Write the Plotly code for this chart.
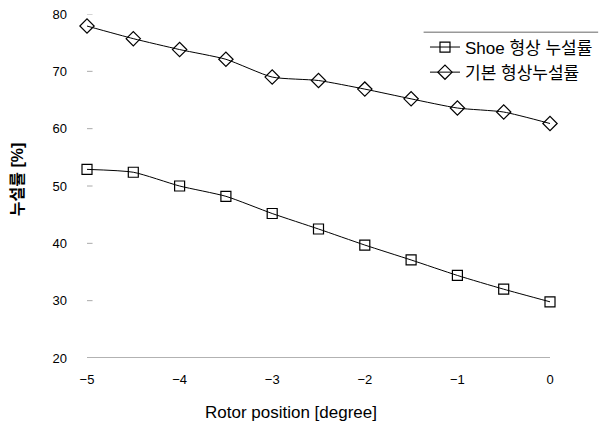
import plotly.graph_objects as go

rotor_position = [-5, -4.5, -4, -3.5, -3, -2.5, -2, -1.5, -1, -0.5, 0]
shoe_leak = [52.9, 52.4, 50.0, 48.2, 45.2, 42.5, 39.7, 37.1, 34.4, 32.0, 29.8]
basic_leak = [77.9, 75.7, 73.8, 72.1, 69.0, 68.4, 66.9, 65.2, 63.6, 62.9, 60.9]
series_names = ["Shoe 형상 누설률", "기본 형상누설률"]
x_ticks = [-5, -4, -3, -2, -1, 0]
y_ticks = [20, 30, 40, 50, 60, 70, 80]

FONT = "Liberation Sans, Arial, Noto Sans CJK KR, sans-serif"

fig = go.Figure()
fig.add_trace(go.Scatter(
    x=rotor_position, y=shoe_leak, name=series_names[0],
    mode="lines+markers", cliponaxis=False,
    line=dict(color="black", width=1, shape="spline", smoothing=0.6),
    marker=dict(symbol="square-open", size=10, color="black", line=dict(width=1.2)),
))
fig.add_trace(go.Scatter(
    x=rotor_position, y=basic_leak, name=series_names[1],
    mode="lines+markers", cliponaxis=False,
    line=dict(color="black", width=1, shape="spline", smoothing=0.6),
    marker=dict(symbol="diamond-open", size=11, color="black", line=dict(width=1.2)),
))

fig.update_layout(
    width=603, height=429,
    margin=dict(l=87, r=53, t=14, b=71, autoexpand=False),
    paper_bgcolor="white", plot_bgcolor="white",
    font=dict(family=FONT, color="black", size=12),
    showlegend=True,
    legend=dict(
        x=0.73, y=0.955, xanchor="left", yanchor="top",
        font=dict(size=17, family=FONT, color="black"),
        bgcolor="rgba(255,255,255,0)", borderwidth=0,
        tracegroupgap=0, itemwidth=30,
    ),
    xaxis=dict(
        range=[-5, 0], tickvals=x_ticks, showgrid=False, zeroline=False,
        showline=False, ticks="", tickfont=dict(size=13), ticklabelstandoff=12,
        title=dict(text=""),
    ),
    yaxis=dict(
        range=[20, 80], tickvals=y_ticks, showgrid=False, zeroline=False,
        showline=False, ticks="", tickfont=dict(size=13), ticklabelstandoff=19,
        title=dict(text=""),
    ),
)

# baseline at y = 20
fig.add_shape(type="line", xref="x", yref="y", x0=-5, x1=0, y0=20, y1=20,
              line=dict(color="#999999", width=1.5), layer="below")
# small tick dashes along left edge
for v in y_ticks[1:]:
    fig.add_shape(type="line", xref="paper", yref="y", x0=0.0, x1=0.012, y0=v, y1=v,
                  line=dict(color="#aaaaaa", width=1), layer="below")
# legend top rule
fig.add_shape(type="line", xref="paper", yref="paper", x0=0.727, x1=1.104, y0=0.947, y1=0.947,
              line=dict(color="#999999", width=1.5))

fig.add_annotation(
    text="Rotor position [degree]", xref="paper", yref="paper",
    x=0.44, y=-0.157, xanchor="center", yanchor="middle",
    showarrow=False, font=dict(size=17, family=FONT, color="black"),
)
fig.add_annotation(
    text="<b>누설률 [%]</b>", xref="paper", yref="paper",
    x=-0.151, y=0.52, xanchor="center", yanchor="middle",
    textangle=-90, showarrow=False, font=dict(size=16, family=FONT, color="black"),
)

fig.write_html("out.html")
